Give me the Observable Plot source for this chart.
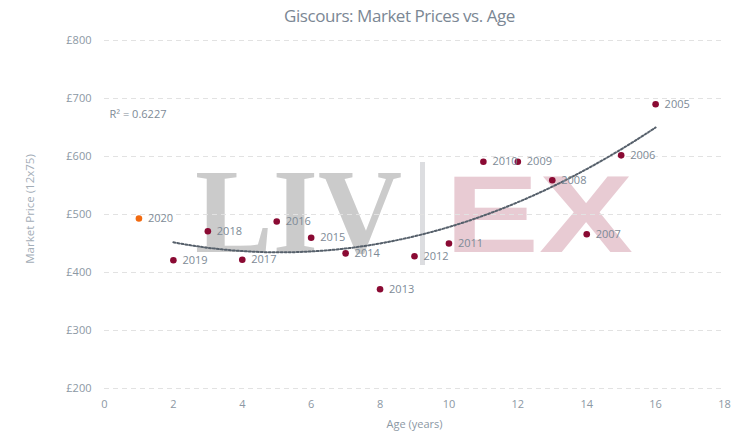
<!DOCTYPE html>
<html><head><meta charset="utf-8">
<script src="https://cdn.jsdelivr.net/npm/d3@7"></script>
<script src="https://cdn.jsdelivr.net/npm/@observablehq/plot@0.6"></script>
<style>
body{margin:0;background:#fff;font-family:"Open Sans",sans-serif;}
#title{height:30px;line-height:32px;text-align:center;font-size:17px;color:#7b8794;letter-spacing:-0.45px;padding-left:46px;}
#chart svg{display:block;}
</style></head><body>
<div id="title">Giscours: Market Prices vs. Age</div>
<div id="chart"></div>
<script>
const vintages = [2020, 2019, 2018, 2017, 2016, 2015, 2014, 2013, 2012, 2011, 2010, 2009, 2008, 2007, 2006, 2005];
const ages     = [1, 2, 3, 4, 5, 6, 7, 8, 9, 10, 11, 12, 13, 14, 15, 16];
const prices   = [493, 421, 471, 422, 488, 460, 433, 371, 428, 450, 591, 591, 559, 466, 602, 690];
const currentVintage = 2020;
const xTicks = [0, 2, 4, 6, 8, 10, 12, 14, 16, 18];
const yTicks = [200, 300, 400, 500, 600, 700, 800];
const r2Label = "R² = 0.6227";
const xTitle = "Age (years)";
const yTitle = "Market Price (12x75)";

const data = vintages.map((v, i) => ({vintage: v, label: String(v), age: ages[i], price: prices[i]}));

// quadratic least-squares trend (excluding the current vintage)
const fitData = data.filter(d => d.vintage !== currentVintage);
function quadFit(pts) {
  const S = k => d3.sum(pts, p => Math.pow(p.age, k));
  const T = k => d3.sum(pts, p => Math.pow(p.age, k) * p.price);
  const A = [[S(0), S(1), S(2), T(0)], [S(1), S(2), S(3), T(1)], [S(2), S(3), S(4), T(2)]];
  for (let i = 0; i < 3; i++) {
    for (let j = i + 1; j < 3; j++) {
      const f = A[j][i] / A[i][i];
      for (let k = i; k < 4; k++) A[j][k] -= f * A[i][k];
    }
  }
  const c = [0, 0, 0];
  for (let i = 2; i >= 0; i--) {
    let s = A[i][3];
    for (let k = i + 1; k < 3; k++) s -= A[i][k] * c[k];
    c[i] = s / A[i][i];
  }
  return c;
}
const coef = quadFit(fitData);
const [amin, amax] = d3.extent(fitData, d => d.age);
const trend = d3.range(amin, amax + 0.001, 0.1).map(a => ({age: a, price: coef[0] + coef[1] * a + coef[2] * a * a}));

const labelColor = "#7d8a96";
const plot = Plot.plot({
  width: 753, height: 406,
  marginTop: 10, marginBottom: 48, marginLeft: 104, marginRight: 29,
  style: {fontFamily: "Open Sans", fontSize: "11px", color: "#8c98a4", background: "transparent", overflow: "visible"},
  x: {domain: [0, 18], ticks: xTicks, tickSize: 0, tickPadding: 12, label: null},
  y: {domain: [200, 800], ticks: yTicks, tickSize: 0, tickPadding: 13, label: null, tickFormat: d => "£" + d},
  marks: [
    Plot.ruleY(yTicks, {stroke: "#e2e2e2", strokeDasharray: "5,4"}),
    Plot.line(trend, {x: "age", y: "price", stroke: "#56606b", strokeWidth: 2, strokeDasharray: "2,2"}),
    Plot.dot(data, {x: "age", y: "price", r: 3.3, fill: d => d.vintage === currentVintage ? "#f26a10" : "#8a0a33"}),
    Plot.text(data, {x: "age", y: "price", text: "label", dx: 9, textAnchor: "start", fill: labelColor, fontSize: 11}),
    Plot.text([r2Label], {frameAnchor: "top-left", dx: 5, dy: 70, textAnchor: "start", fill: labelColor, fontSize: 11}),
    Plot.text([xTitle], {frameAnchor: "bottom", dy: 39, fill: "#8c98a4", fontSize: 11})
  ]
});
document.getElementById("chart").appendChild(plot);

const svg = d3.select(plot);
// rotated y-axis title
svg.append("text").attr("transform", "translate(30,179) rotate(-90)").attr("text-anchor", "middle")
  .attr("dy", "0.32em").attr("font-size", 11.5).attr("fill", "#a3adb7").text(yTitle);

// LIV-EX watermark behind the marks
const wm = svg.insert("g", ":first-child");
function wmText(str, x, y, w, family, size, fill) {
  const g = wm.append("g");
  const t = g.append("text").attr("x", 0).attr("y", 0).attr("text-anchor", "start")
    .attr("font-family", family).attr("font-weight", "bold").attr("font-size", size).attr("fill", fill).text(str);
  const bb = t.node().getBBox();
  const sx = w / bb.width;
  g.attr("transform", `translate(${x - bb.x * sx},${y}) scale(${sx},1)`);
}
wmText("LIV", 195, 222, 207, "Liberation Serif", 120, "#cbcbcb");
wm.append("rect").attr("x", 420).attr("y", 132).attr("width", 5).attr("height", 103).attr("fill", "#dcdde0");
wmText("EX", 445, 222, 188, "Liberation Sans", 110, "#e8cbd3");
</script>
</body></html>
